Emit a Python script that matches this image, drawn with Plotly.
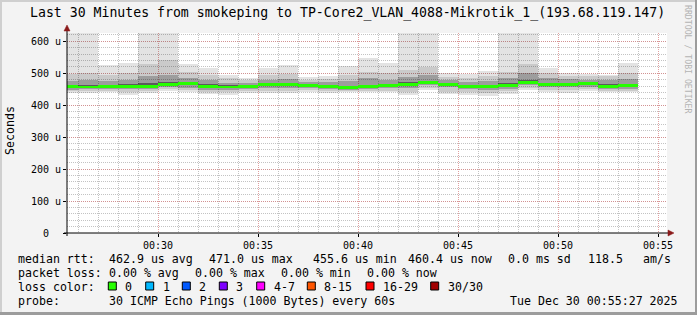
import plotly.graph_objects as go

# ---------------- data ----------------
day = "2025-12-30"
minutes = ["00:25", "00:26", "00:27", "00:28", "00:29", "00:30", "00:31", "00:32", "00:33", "00:34",
           "00:35", "00:36", "00:37", "00:38", "00:39", "00:40", "00:41", "00:42", "00:43", "00:44",
           "00:45", "00:46", "00:47", "00:48", "00:49", "00:50", "00:51", "00:52", "00:53"]

# RTT distribution per step (microseconds)
rtt_min = [438, 438, 442, 432, 437, 445, 440, 434, 432, 437, 437, 438, 442, 438, 442, 440, 440, 432, 448, 434,
           432, 429, 436, 448, 442, 439, 444, 440, 440]
rtt_p10 = [444, 445, 446, 442, 445, 451, 447, 441, 440, 443, 446, 446, 447, 444, 445, 446, 446, 442, 455, 442,
           440, 438, 443, 455, 448, 447, 450, 446, 446]
rtt_p25 = [449, 450, 451, 450, 452, 458, 455, 449, 447, 450, 454, 454, 453, 450, 448, 451, 454, 455, 462, 456,
           450, 448, 452, 462, 456, 457, 458, 452, 452]
rtt_p40 = [455, 454, 455, 456, 457, 462, 463, 456, 453, 456, 461, 460, 459, 455, 452, 455, 459, 462, 467, 462,
           456, 454, 458, 468, 461, 463, 464, 457, 457]
rtt_median = [458, 457, 458, 460, 460, 466, 467, 460, 457, 460, 465, 464, 462, 458, 455.6, 458, 462, 466, 470, 466,
              460, 458, 462, 471.0, 465, 466, 467, 460, 460.4]
rtt_p60 = [463, 462, 463, 466, 468, 473, 472, 465, 462, 464, 470, 470, 466, 463, 460, 464, 467, 472, 476, 470,
           464, 463, 468, 478, 470, 471, 471, 465, 466]
rtt_p75 = [476, 478, 475, 478, 490, 495, 485, 478, 471, 470, 480, 482, 472, 472, 476, 484, 480, 488, 495, 478,
           472, 475, 485, 500, 485, 482, 480, 478, 482]
rtt_p90 = [498, 500, 495, 500, 530, 540, 505, 495, 485, 478, 495, 498, 480, 482, 495, 505, 500, 510, 520, 488,
           485, 490, 505, 530, 500, 492, 490, 490, 500]
rtt_max = [650, 650, 526, 531, 650, 650, 529, 515, 495, 484, 515, 526, 487, 491, 523, 549, 533, 650, 650, 500,
           498, 506, 650, 650, 515, 501, 499, 496, 531]

y_tick_vals = [0, 100, 200, 300, 400, 500, 600]
y_tick_text = ["0\u00a0\u00a0", "100 u", "200 u", "300 u", "400 u", "500 u", "600 u"]

median_stats = {"avg": 462.9, "max": 471.0, "min": 455.6, "now": 460.4}
sd_ms = 0.0
am_s = 118.5
loss_stats = {"avg": 0.00, "max": 0.00, "min": 0.00, "now": 0.00}
loss_labels = ["0", "1", "2", "3", "4-7", "8-15", "16-29", "30/30"]
loss_colors = ["#26ff00", "#00b8ff", "#0059ff", "#7e00ff", "#ff00ff", "#ff5500", "#ff0000", "#a10000"]
title = "Last 30 Minutes from smokeping to TP-Core2_VLAN_4088-Mikrotik_1_(193.68.119.147)"
probe_text = "30 ICMP Echo Pings (1000 Bytes) every 60s"
stamp = "Tue Dec 30 00:55:27 2025"

# ---------------- figure ----------------
W, H = 697, 315
L, R, T, B = 67, 30, 33, 82
PW, PH = W - L - R, H - T - B
FONT = "DejaVu Sans Mono"


def px(x):
    return (x - L) / PW


def py(y):
    return (H - B - y) / PH


x = [f"{day} {m}:00" for m in minutes]
step_ms = 60000

fig = go.Figure()
layers = [(rtt_min, rtt_max, 0.11), (rtt_p10, rtt_p90, 0.11),
          (rtt_p25, rtt_p75, 0.22), (rtt_p40, rtt_p60, 0.42)]
for lo, hi, a in layers:
    fig.add_trace(go.Bar(
        x=x, base=lo, y=[h - l for l, h in zip(lo, hi)],
        width=step_ms, offset=0,
        marker=dict(color=f"rgba(0,0,0,{a})", line=dict(width=0)),
        hoverinfo="skip", showlegend=False))

band = 4.6
fig.add_trace(go.Bar(
    x=x, base=[m - band for m in rtt_median], y=[2 * band] * len(rtt_median),
    width=step_ms, offset=0,
    marker=dict(color=loss_colors[0], line=dict(width=0)),
    hoverinfo="skip", showlegend=False))

minor_grid = "rgba(175,175,175,0.75)"
major_grid = "rgba(215,130,130,0.75)"

fig.update_layout(
    width=W, height=H,
    margin=dict(l=L, r=R, t=T, b=B, pad=0),
    paper_bgcolor="#f3f3f3", plot_bgcolor="#ffffff",
    barmode="overlay", bargap=0,
    font=dict(family=FONT, color="#000000", size=10),
    xaxis=dict(
        type="date",
        range=[f"{day} 00:25:27", f"{day} 00:55:27"],
        tick0=f"{day} 00:00:00", dtick=300000, tickformat="%H:%M",
        showgrid=True, gridcolor=major_grid, griddash="1px,1px", gridwidth=1,
        minor=dict(dtick=60000, tick0=f"{day} 00:00:00", showgrid=True,
                   gridcolor=minor_grid, griddash="1px,1px", gridwidth=1),
        showline=False, zeroline=False,
        ticks="outside", ticklen=3, tickcolor="#000000",
        tickfont=dict(family=FONT, size=10, color="#000000"),
        fixedrange=True,
    ),
    yaxis=dict(
        range=[0, 626],
        tickmode="array", tickvals=y_tick_vals, ticktext=y_tick_text,
        showgrid=True, gridcolor=major_grid, griddash="1px,1px", gridwidth=1,
        minor=dict(dtick=20, tick0=0, showgrid=True,
                   gridcolor=minor_grid, griddash="1px,1px", gridwidth=1),
        showline=False, zeroline=False,
        ticks="outside", ticklen=3, tickcolor="#000000",
        tickfont=dict(family=FONT, size=10, color="#000000"),
        fixedrange=True,
    ),
)

shapes = []
# axis lines
shapes.append(dict(type="line", xref="paper", yref="paper",
                   x0=px(L), x1=px(L), y0=py(H - B + 3), y1=py(29),
                   line=dict(color="#000000", width=1)))
shapes.append(dict(type="line", xref="paper", yref="paper",
                   x0=px(L - 3), x1=px(669), y0=py(H - B), y1=py(H - B),
                   line=dict(color="#000000", width=1)))
# arrows
shapes.append(dict(type="path", xref="paper", yref="paper",
                   path=f"M {px(L - 3)} {py(31)} L {px(L + 3)} {py(31)} L {px(L)} {py(25)} Z",
                   fillcolor="#8b1a1a", line=dict(color="#8b1a1a", width=0.5)))
shapes.append(dict(type="path", xref="paper", yref="paper",
                   path=f"M {px(668)} {py(H - B - 3)} L {px(668)} {py(H - B + 3)} L {px(674)} {py(H - B)} Z",
                   fillcolor="#8b1a1a", line=dict(color="#8b1a1a", width=0.5)))
# frame
shapes.append(dict(type="rect", xref="paper", yref="paper", layer="above",
                   x0=px(0), x1=px(2), y0=py(H), y1=py(0),
                   fillcolor="#cfcfcf", line=dict(width=0)))
shapes.append(dict(type="rect", xref="paper", yref="paper", layer="above",
                   x0=px(0), x1=px(W), y0=py(2), y1=py(0),
                   fillcolor="#cfcfcf", line=dict(width=0)))
shapes.append(dict(type="rect", xref="paper", yref="paper", layer="above",
                   x0=px(W - 2), x1=px(W), y0=py(H), y1=py(0),
                   fillcolor="#9c9c9c", line=dict(width=0)))
shapes.append(dict(type="rect", xref="paper", yref="paper", layer="above",
                   x0=px(0), x1=px(W), y0=py(H), y1=py(H - 3),
                   fillcolor="#9c9c9c", line=dict(width=0)))

# loss colour squares
sq_x = [108.3, 145.7, 182.3, 219.3, 256.7, 307.3, 366.0, 430.7]
for sx, c in zip(sq_x, loss_colors):
    shapes.append(dict(type="rect", xref="paper", yref="paper",
                       x0=px(sx), x1=px(sx + 8), y0=py(290), y1=py(282),
                       fillcolor=c, line=dict(color="#000000", width=1)))
fig.update_layout(shapes=shapes)

ann = []


def txt(xp, yp, s, size=11.6, anchor="left", color="#000000", angle=0):
    ann.append(dict(xref="paper", yref="paper", x=px(xp), y=py(yp), text=s,
                    showarrow=False, xanchor=anchor, yanchor="middle", textangle=angle,
                    font=dict(family=FONT, size=size, color=color)))


txt(347, 13, title, size=13.2, anchor="center")
txt(10, 131, "Seconds", size=11.6, anchor="center", angle=-90)
txt(688, 59, "RRDTOOL / TOBI OETIKER", size=8.2, anchor="center", color="#b4b4b4", angle=90)

y1, y2, y3, y4 = 259, 273, 287, 301
txt(16, y1, "median rtt:")
txt(107, y1, f"{median_stats['avg']:.1f} us avg")
txt(207, y1, f"{median_stats['max']:.1f} us max")
txt(311, y1, f"{median_stats['min']:.1f} us min")
txt(406, y1, f"{median_stats['now']:.1f} us now")
txt(506, y1, f"{sd_ms:.1f} ms sd")
txt(586, y1, f"{am_s:.1f}")
txt(641, y1, "am/s")

txt(16, y2, "packet loss:")
txt(107, y2, f"{loss_stats['avg']:.2f} % avg")
txt(193, y2, f"{loss_stats['max']:.2f} % max")
txt(279, y2, f"{loss_stats['min']:.2f} % min")
txt(365, y2, f"{loss_stats['now']:.2f} % now")

txt(16, y3, "loss color:")
for sx, lab in zip(sq_x, loss_labels):
    txt(sx + 15, y3, lab)

txt(16, y4, "probe:")
txt(106.7, y4, probe_text)
txt(680, y4, stamp, anchor="right")

fig.update_layout(annotations=ann)

fig.write_html("out.html")
